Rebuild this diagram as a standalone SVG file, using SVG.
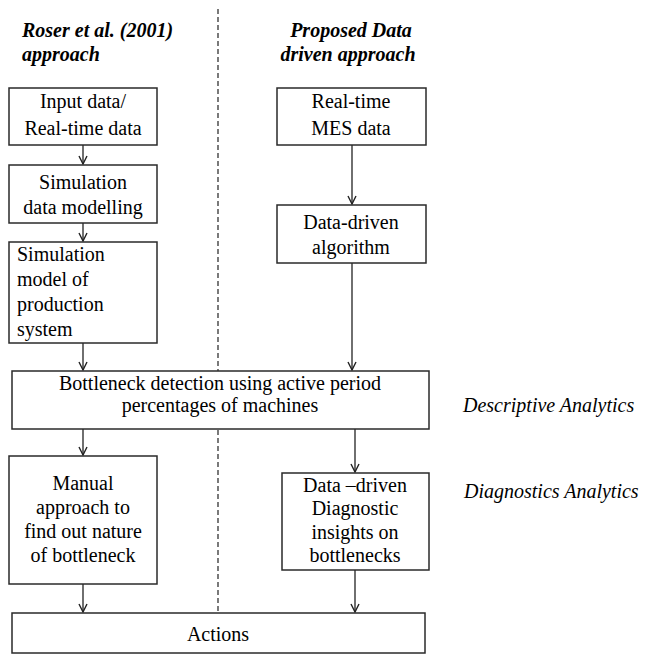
<svg xmlns="http://www.w3.org/2000/svg" width="647" height="656" viewBox="0 0 647 656">
<defs>
<marker id="arr" viewBox="0 0 10 10" refX="9" refY="5" markerWidth="10" markerHeight="10" markerUnits="userSpaceOnUse" orient="auto">
<path d="M1,1 L9,5 L1,9" fill="none" stroke="#222" stroke-width="1.4"/>
</marker>
</defs>
<rect width="647" height="656" fill="#fff"/>
<g id="divider" stroke="#333" stroke-width="1.3" stroke-dasharray="5 3" fill="none">
<line x1="218" y1="9" x2="218" y2="371"/>
<line x1="218" y1="430" x2="218" y2="612"/>
</g>
<g id="connectors" stroke="#222" stroke-width="1.3" fill="none">
<line x1="83" y1="145" x2="83" y2="164" marker-end="url(#arr)"/>
<line x1="83" y1="223" x2="83" y2="241" marker-end="url(#arr)"/>
<line x1="83" y1="343" x2="83" y2="370" marker-end="url(#arr)"/>
<line x1="352" y1="145" x2="352" y2="204" marker-end="url(#arr)"/>
<line x1="352" y1="263" x2="352" y2="370" marker-end="url(#arr)"/>
<line x1="83" y1="429" x2="83" y2="455" marker-end="url(#arr)"/>
<line x1="355" y1="429" x2="355" y2="472" marker-end="url(#arr)"/>
<line x1="83" y1="584" x2="83" y2="612" marker-end="url(#arr)"/>
<line x1="355" y1="570" x2="355" y2="612" marker-end="url(#arr)"/>
</g>
<g id="headers">
<text x="22" y="37" font-size="20" font-family="Liberation Serif" font-style="italic" font-weight="bold">Roser et al. (2001)</text>
<text x="22" y="61" font-size="20" font-family="Liberation Serif" font-style="italic" font-weight="bold">approach</text>
<text x="351" y="37" font-size="20" font-family="Liberation Serif" font-style="italic" font-weight="bold" text-anchor="middle">Proposed Data</text>
<text x="348" y="61" font-size="20" font-family="Liberation Serif" font-style="italic" font-weight="bold" text-anchor="middle">driven approach</text>
</g>
<g id="input">
<rect x="9" y="88" width="148" height="57" fill="#fff" stroke="#2a2a2a" stroke-width="1.5"/>
<text x="83" y="108" font-size="20" font-family="Liberation Serif" text-anchor="middle">Input data/</text>
<text x="83" y="135" font-size="20" font-family="Liberation Serif" text-anchor="middle">Real-time data</text>
</g>
<g id="simdata">
<rect x="9" y="165" width="148" height="58" fill="#fff" stroke="#2a2a2a" stroke-width="1.5"/>
<text x="83" y="189" font-size="20" font-family="Liberation Serif" text-anchor="middle">Simulation</text>
<text x="83" y="214" font-size="20" font-family="Liberation Serif" text-anchor="middle">data modelling</text>
</g>
<g id="simmodel">
<rect x="9" y="242" width="148" height="101" fill="#fff" stroke="#2a2a2a" stroke-width="1.5"/>
<text x="17" y="261" font-size="20" font-family="Liberation Serif">Simulation</text>
<text x="17" y="286" font-size="20" font-family="Liberation Serif">model of</text>
<text x="17" y="311" font-size="20" font-family="Liberation Serif">production</text>
<text x="17" y="336" font-size="20" font-family="Liberation Serif">system</text>
</g>
<g id="mes">
<rect x="277" y="88" width="149" height="57" fill="#fff" stroke="#2a2a2a" stroke-width="1.5"/>
<text x="351" y="108" font-size="20" font-family="Liberation Serif" text-anchor="middle">Real-time</text>
<text x="351" y="135" font-size="20" font-family="Liberation Serif" text-anchor="middle">MES data</text>
</g>
<g id="algo">
<rect x="277" y="205" width="149" height="58" fill="#fff" stroke="#2a2a2a" stroke-width="1.5"/>
<text x="351" y="229" font-size="20" font-family="Liberation Serif" text-anchor="middle">Data-driven</text>
<text x="351" y="254" font-size="20" font-family="Liberation Serif" text-anchor="middle">algorithm</text>
</g>
<g id="bottleneck">
<rect x="12" y="371" width="417" height="58" fill="#fff" stroke="#2a2a2a" stroke-width="1.5"/>
<text x="220" y="390" font-size="20" font-family="Liberation Serif" text-anchor="middle">Bottleneck detection using active period</text>
<text x="220" y="412" font-size="20" font-family="Liberation Serif" text-anchor="middle">percentages of machines</text>
</g>
<g id="manual">
<rect x="9" y="456" width="148" height="128" fill="#fff" stroke="#2a2a2a" stroke-width="1.5"/>
<text x="83" y="490" font-size="20" font-family="Liberation Serif" text-anchor="middle">Manual</text>
<text x="83" y="514" font-size="20" font-family="Liberation Serif" text-anchor="middle">approach to</text>
<text x="83" y="538" font-size="20" font-family="Liberation Serif" text-anchor="middle">find out nature</text>
<text x="83" y="562" font-size="20" font-family="Liberation Serif" text-anchor="middle">of bottleneck</text>
</g>
<g id="diag">
<rect x="282" y="473" width="147" height="97" fill="#fff" stroke="#2a2a2a" stroke-width="1.5"/>
<text x="355" y="492" font-size="20" font-family="Liberation Serif" text-anchor="middle">Data –driven</text>
<text x="355" y="515" font-size="20" font-family="Liberation Serif" text-anchor="middle">Diagnostic</text>
<text x="355" y="539" font-size="20" font-family="Liberation Serif" text-anchor="middle">insights on</text>
<text x="355" y="562" font-size="20" font-family="Liberation Serif" text-anchor="middle">bottlenecks</text>
</g>
<g id="actions">
<rect x="12" y="613" width="413" height="40" fill="#fff" stroke="#2a2a2a" stroke-width="1.5"/>
<text x="218" y="641" font-size="20" font-family="Liberation Serif" text-anchor="middle">Actions</text>
</g>
<g id="labels">
<text x="463" y="412" font-size="20" font-family="Liberation Serif" font-style="italic">Descriptive Analytics</text>
<text x="464" y="498" font-size="20" font-family="Liberation Serif" font-style="italic">Diagnostics Analytics</text>
</g>
</svg>
